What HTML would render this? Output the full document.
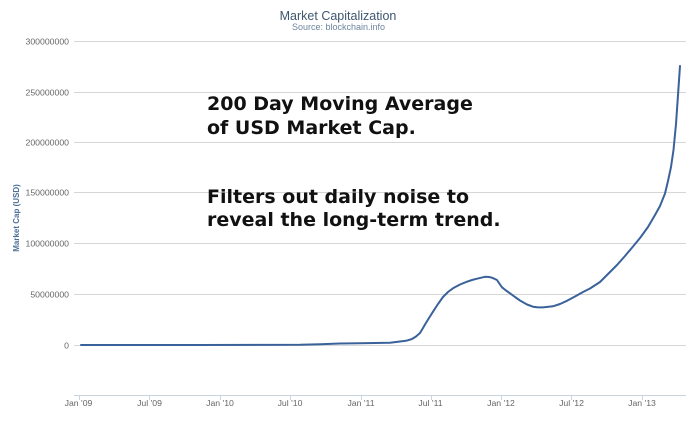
<!DOCTYPE html>
<html><head><meta charset="utf-8"><style>
html,body{margin:0;padding:0;background:#fff;}
svg{display:block;}
</style></head><body>
<svg width="700" height="421" viewBox="0 0 700 421" xmlns="http://www.w3.org/2000/svg">
<rect width="700" height="421" fill="#fff"/>
<g stroke="#d6d6d6" stroke-width="1">
<line x1="74" y1="41.5" x2="686" y2="41.5"/>
<line x1="74" y1="92.5" x2="686" y2="92.5"/>
<line x1="74" y1="142.5" x2="686" y2="142.5"/>
<line x1="74" y1="192.5" x2="686" y2="192.5"/>
<line x1="74" y1="243.5" x2="686" y2="243.5"/>
<line x1="74" y1="294.5" x2="686" y2="294.5"/>
<line x1="74" y1="345.5" x2="686" y2="345.5"/>
</g>
<line x1="74" y1="395.5" x2="686" y2="395.5" stroke="#c8d4e0" stroke-width="1"/>
<g stroke="#c8d4e0" stroke-width="1">
<line x1="79.5" y1="395" x2="79.5" y2="400"/>
<line x1="149.5" y1="395" x2="149.5" y2="400"/>
<line x1="220.5" y1="395" x2="220.5" y2="400"/>
<line x1="290.5" y1="395" x2="290.5" y2="400"/>
<line x1="361.5" y1="395" x2="361.5" y2="400"/>
<line x1="431.5" y1="395" x2="431.5" y2="400"/>
<line x1="501.5" y1="395" x2="501.5" y2="400"/>
<line x1="571.5" y1="395" x2="571.5" y2="400"/>
<line x1="642.5" y1="395" x2="642.5" y2="400"/>
</g>
<g font-family="Liberation Sans, sans-serif" font-size="8.7" fill="#666" text-anchor="end">
<text x="69" y="44.5">300000000</text>
<text x="69" y="95.5">250000000</text>
<text x="69" y="145.5">200000000</text>
<text x="69" y="195.5">150000000</text>
<text x="69" y="246.5">100000000</text>
<text x="69" y="297.5">50000000</text>
<text x="69" y="348.5">0</text>
</g>
<g font-family="Liberation Sans, sans-serif" font-size="8.7" fill="#666" text-anchor="middle">
<text x="78.5" y="406">Jan '09</text>
<text x="149.5" y="406">Jul '09</text>
<text x="220" y="406">Jan '10</text>
<text x="290" y="406">Jul '10</text>
<text x="361" y="406">Jan '11</text>
<text x="430.5" y="406">Jul '11</text>
<text x="501" y="406">Jan '12</text>
<text x="571.5" y="406">Jul '12</text>
<text x="642" y="406">Jan '13</text>
</g>
<text x="19" y="218" transform="rotate(-90 19 218)" font-family="Liberation Sans, sans-serif" font-size="8" font-weight="bold" fill="#4d6f98" text-anchor="middle">Market Cap (USD)</text>
<text x="338" y="20" font-family="Liberation Sans, sans-serif" font-size="12.5" fill="#3e576f" text-anchor="middle">Market Capitalization</text>
<text x="338.5" y="30" font-family="Liberation Sans, sans-serif" font-size="9" fill="#6d869f" text-anchor="middle">Source: blockchain.info</text>
<path fill="none" stroke="#3a629a" stroke-width="2" stroke-linejoin="round" stroke-linecap="round"
d="M81,345 L200,345 L300,344.8 L320,344.3 L340,343.5 L360,343.3 L390,342.7 L406,340.8 L412,339 L416,336.5 L420,333 L423,328 L425,324.5 L429,318 L433,311.7 L438,304 L443,297 L448,292 L453,288.3 L460,284.5 L467,281.7 L472,280 L477,278.7 L485,276.8 L489,277 L492,277.7 L497,280 L499,283 L502,287.3 L506,290.5 L510,293.3 L515,297 L520,300.5 L527,304.5 L533,306.7 L538,307.4 L543,307.4 L553,306.3 L560,304 L567,300.8 L575,296.5 L583,292 L590,288.5 L600,282 L608,274 L617,265 L625,256 L633,246.5 L640,238 L648,227 L655,215 L660,206 L665,193.5 L668,181 L671,167 L673.5,150 L676,124 L678,95 L680,66"/>
<g font-family="DejaVu Sans, Verdana, sans-serif" font-size="19" font-weight="bold" fill="#111">
<text x="207" y="110">200 Day Moving Average</text>
<text x="207" y="134">of USD Market Cap.</text>
<text x="207" y="203">Filters out daily noise to</text>
<text x="207" y="226">reveal the long-term trend.</text>
</g>
</svg>
</body></html>
